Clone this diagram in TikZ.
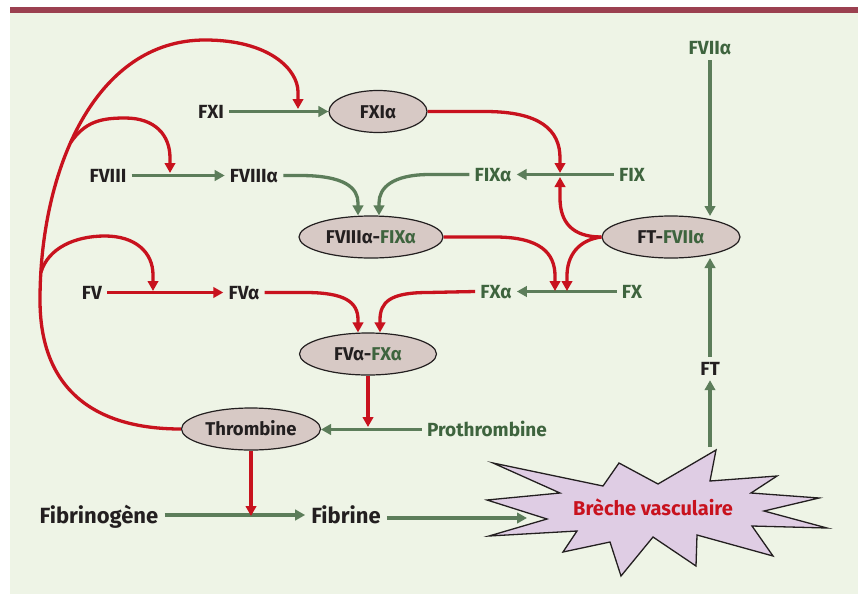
\documentclass[tikz,border=0pt]{standalone}
\usepackage{fontspec}
\setmainfont{Fira Sans}
\usetikzlibrary{arrows.meta,shapes.geometric}
\definecolor{bg}{RGB}{238,244,230}
\definecolor{barc}{RGB}{155,64,80}
\definecolor{rd}{RGB}{200,18,30}
\definecolor{gn}{RGB}{92,125,90}
\definecolor{gt}{RGB}{62,100,62}
\definecolor{tx}{RGB}{35,31,32}
\definecolor{ellc}{RGB}{215,201,197}
\definecolor{starc}{RGB}{223,205,228}
\begin{document}
\begin{tikzpicture}[x=1pt,y=-1pt,
  lbl/.style={font=\fontsize{19}{21}\selectfont\bfseries, text=tx, text height=13pt, text depth=0pt, inner xsep=5pt, inner ysep=5pt},
  glbl/.style={lbl, text=gt},
  biglbl/.style={font=\fontsize{22}{24}\selectfont\bfseries, text=tx, text height=16pt, text depth=0pt, inner xsep=6pt, inner ysep=4pt},
  cx/.style={ellipse, draw=tx, line width=1.2pt, fill=ellc, minimum height=42pt, inner sep=0pt, text=tx,
     font=\fontsize{18.5}{20}\selectfont\bfseries, text height=13pt, text depth=0pt},
  rline/.style={draw=rd, line width=3.3pt},
  gline/.style={draw=gn, line width=3.3pt},
  tip/.style={-{Triangle[length=10pt,width=10.5pt]}}]
\useasboundingbox (0,0) rectangle (858,594);
\fill[white] (0,0) rectangle (858,594);
\fill[bg] (10,12) rectangle (858,594);
\fill[barc] (10,7) rectangle (858,13);

% nodes
\node[lbl] (fxi) at (211,111.5) {FXI};
\node[cx, minimum width=98pt] (fxia) at (378,111.5) {FXIα};
\node[lbl] (fviii) at (108,175.5) {FVIII};
\node[lbl] (fviiia) at (254,175.5) {FVIIIα};
\node[glbl] (fixa) at (493,174.5) {FIXα};
\node[glbl] (fix) at (632,174.5) {FIX};
\node[glbl] (fviia) at (710,48.5) {FVIIα};
\node[lbl] (fv) at (92,292.5) {FV};
\node[lbl] (fva) at (244,292.5) {FVα};
\node[glbl] (fxa) at (496,291.5) {FXα};
\node[glbl] (fx) at (632,291.5) {FX};
\node[lbl] (ft) at (710,368.5) {FT};
\node[glbl] (prot) at (487,429.5) {Prothrombine};
\node[biglbl] (fibg) at (99,515) {Fibrinogène};
\node[biglbl] (fib) at (346,515) {Fibrine};

% star
\draw[fill=starc, draw=tx, line width=1.3pt, line join=miter]
  (493,463) -- (603,486) -- (619,463) -- (658,484) -- (716,450) -- (710,481)
  -- (777,476) -- (751,493) -- (819,498) -- (764,511) -- (827,528) -- (752,526)
  -- (773,556) -- (697,535) -- (696,566) -- (653,537) -- (621,576) -- (610,542)
  -- (563,552) -- (577,531) -- (489,536) -- (547,519) -- (487,500) -- (560,493) -- cycle;
\node[font=\fontsize{20}{22}\selectfont\bfseries, text=rd, text height=14pt, text depth=0pt, inner sep=0pt] (breche) at (653,508) {Brèche vasculaire};
\coordinate (bin) at (527,518);
\coordinate (btop) at (710,447);

% meeting points on lines
\coordinate (m1) at (298,109);
\coordinate (m2) at (170,173);
\coordinate (m3) at (153,291);
\coordinate (m4a) at (560,173);
\coordinate (m4b) at (560,177);
\coordinate (m5) at (555,291);
\coordinate (m6) at (567,291);
\coordinate (m7) at (368,427);
\coordinate (m8) at (251,516);

% green straight arrows
\draw[gline,tip] (fxi) -- (fxia);
\draw[gline,tip] (fviii) -- (fviiia);
\draw[gline,tip] (fix) -- (fixa);
\draw[gline,tip] (fx) -- (fxa);
\draw[gline,tip] (fviia) -- (710,216);
\draw[gline,tip] (ft) -- (710,258);
\draw[gline,tip] (btop) -- (ft);
\draw[gline,tip] (prot) -- (321,429.5);
\draw[gline,tip] (fibg) -- (fib);
\draw[gline,tip] (fib.east) ++(0,3) -- (bin);
\draw[rline,tip] (fv) -- (fva);

% ellipses
\node[cx, minimum width=144pt] (tenase) at (371,237) {FVIIIα-\textcolor{gt}{FIXα}};
\node[cx, minimum width=138pt] (ftf) at (671,237) {FT-\textcolor{gt}{FVIIα}};
\node[cx, minimum width=137pt] (pro) at (368,354) {FVα-\textcolor{gt}{FXα}};
\node[cx, minimum width=139pt] (thr) at (251,429) {Thrombine};

% green curves into tenase
\draw[gline,tip] (fviiia.east) -- (300,175.5) .. controls (345,175.5) and (358,188) .. (358,203) -- (tenase.north -| 358,0);
\draw[gline,tip] (fixa.west) -- (430,174.5) .. controls (392,174.5) and (379,188) .. (379,203) -- (tenase.north -| 379,0);

% red curves
\draw[rline,tip] (fxia.east) -- (485,111.5) .. controls (540,111.5) and (560,130) .. (560,158) -- (m4a);
\draw[rline,tip] (ftf.west) .. controls (572,237) and (560,222) .. (560,198) -- (m4b);
\draw[rline,tip] (ftf.west) .. controls (578,240) and (567,256) .. (567,276) -- (m6);
\draw[rline,tip] (tenase.east) -- (495,237) .. controls (540,237) and (555,253) .. (555,276) -- (m5);
\draw[rline,tip] (fva.east) -- (305,292.5) .. controls (345,292.5) and (358,302) .. (358,320) -- (pro.north -| 358,0);
\draw[rline,tip] (fxa.west) -- (428,292.5) .. controls (390,292.5) and (380,302) .. (380,320) -- (pro.north -| 380,0);
\draw[rline,tip] (pro) -- (m7);
\draw[rline,tip] (thr) -- (m8);

% big feedback loop from thrombine
\draw[rline,tip] (thr.west) .. controls (95,429) and (40,390) .. (40,300)
   .. controls (40,170) and (95,40) .. (205,40) coordinate[pos=0.43] (b2) coordinate[pos=0.07] (b3)
   .. controls (270,40) and (298,70) .. (298,92) -- (m1);
\draw[rline,tip] (b2) .. controls (85,122) and (100,118) .. (125,118) .. controls (155,118) and (170,135) .. (170,158) -- (m2);
\draw[rline,tip] (b3) .. controls (48,248) and (75,236) .. (105,236) .. controls (135,236) and (153,252) .. (153,275) -- (m3);
\end{tikzpicture}
\end{document}
